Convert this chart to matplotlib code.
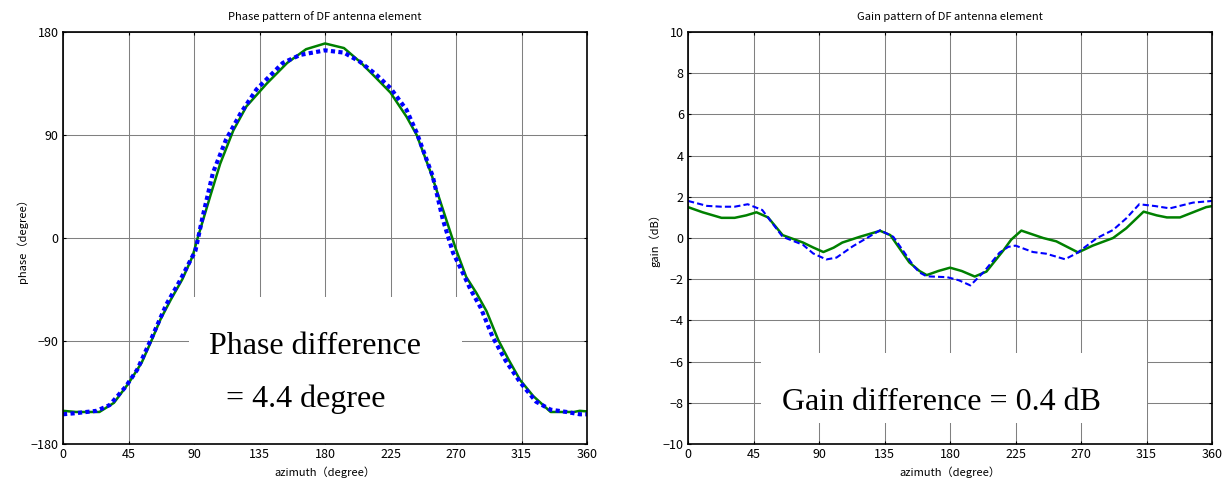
import numpy as np
import matplotlib
matplotlib.use('Agg')
import matplotlib.pyplot as plt
from matplotlib.patches import Rectangle

plt.rcParams['font.family'] = ['Noto Sans CJK JP', 'DejaVu Sans']

# phase pattern (degree)
phase_az_green = [0, 9, 25, 35, 45, 54, 61, 67, 74, 82, 89, 92.5, 101, 108, 117, 126, 140, 154, 167, 180,
                  193, 204, 215, 225, 236, 243, 253, 261, 270, 277, 284, 291, 299, 306, 314, 323, 335, 351, 355, 360]
phase_green = [-151, -152, -152, -144, -127, -109, -89, -71, -54, -36, -16, 0, 36, 65, 94, 115, 135, 153, 165, 170,
               166, 154, 140, 127, 106, 90, 56, 25, -10, -34, -48, -64, -89, -106, -124, -138, -152, -152, -151, -151.5]
phase_az_blue = [0, 9, 23, 32, 43, 51, 61, 71, 80, 91, 96, 103, 112, 122, 133, 151, 163, 180,
                 193, 204, 215, 225, 236, 243, 254, 261, 268, 273, 280, 287, 295, 304, 314, 325, 335, 346, 355, 360]
phase_blue = [-154, -153, -151, -146, -130, -115, -87, -58, -38, -11, 19, 57, 86, 109, 130, 153, 160, 164,
              162, 154, 143, 131, 112, 92, 54, 16, -13, -26, -45, -61, -86, -107, -126, -143, -150, -152, -154, -154]

# gain pattern (dB)
gain_az_green = [0, 10, 23, 32, 40, 47, 55, 65, 79, 86, 93, 100, 106, 118, 132, 139, 146, 152, 159, 164, 172,
                 180, 188, 197, 205, 217, 222, 229, 244, 253, 268, 278, 292, 301, 313, 322, 329, 338, 356, 360]
gain_green = [1.5, 1.25, 0.98, 0.98, 1.1, 1.25, 1.0, 0.14, -0.22, -0.46, -0.68, -0.47, -0.22, 0.06, 0.35, 0.14,
              -0.57, -1.18, -1.6, -1.8, -1.6, -1.44, -1.6, -1.87, -1.63, -0.57, -0.08, 0.36, 0.0, -0.16, -0.7,
              -0.37, 0.0, 0.47, 1.28, 1.1, 1.0, 1.0, 1.5, 1.55]
gain_az_blue = [0, 13, 23, 32, 41, 51, 65, 79, 86, 95, 102, 113, 132, 141, 148, 155, 159, 164, 178, 186, 194,
                203, 214, 220, 225, 237, 246, 259, 267, 281, 292, 301, 310, 321, 331, 347, 360]
gain_blue = [1.8, 1.56, 1.52, 1.52, 1.64, 1.36, 0.06, -0.33, -0.75, -1.04, -0.95, -0.41, 0.38, 0.06, -0.64,
             -1.36, -1.67, -1.86, -1.9, -2.05, -2.3, -1.66, -0.71, -0.43, -0.37, -0.68, -0.76, -1.03, -0.74,
             0.0, 0.39, 0.95, 1.64, 1.55, 1.44, 1.72, 1.8]

az_ticks = [0, 45, 90, 135, 180, 225, 270, 315, 360]
phase_ticks = [-180, -90, 0, 90, 180]
gain_ticks = list(range(-10, 11, 2))

green = '#008000'
blue = '#0000ff'


def style(ax, yticks):
    ax.set_xlim(0, 360)
    ax.set_xticks(az_ticks)
    ax.set_yticks(yticks)
    ax.set_ylim(yticks[0], yticks[-1])
    ax.set_axisbelow(True)
    ax.grid(True, color='#808080', lw=0.75)
    ax.tick_params(direction='in', length=2.5, width=0.8, top=True, right=True, labelsize=9, pad=3)
    for s in ax.spines.values():
        s.set_linewidth(1.2)
        s.set_zorder(3)


fig = plt.figure(figsize=(12.26, 4.83), dpi=100)

# phase
ax1 = fig.add_axes([0.0514, 0.0807, 0.4274, 0.853])
style(ax1, phase_ticks)
ax1.add_patch(Rectangle((0.2405, 0), 0.521, 0.357, transform=ax1.transAxes,
                        facecolor='white', edgecolor='none', zorder=1))
ax1.plot(phase_az_green, phase_green, color=green, lw=1.8, zorder=2)
ax1.plot(phase_az_blue, phase_blue, color=blue, lw=3, linestyle=(0, (1, 0.8)), zorder=2)
ax1.set_title('Phase pattern of DF antenna element', fontsize=8, pad=9)
ax1.set_xlabel('azimuth（degree）', fontsize=8, labelpad=4)
ax1.set_ylabel('phase（degree）', fontsize=8, labelpad=2)

# gain
ax2 = fig.add_axes([0.5612, 0.0807, 0.4274, 0.853])
style(ax2, gain_ticks)
ax2.add_patch(Rectangle((0.1393, 0.051), 0.7367, 0.17, transform=ax2.transAxes,
                        facecolor='white', edgecolor='none', zorder=1))
ax2.plot(gain_az_green, gain_green, color=green, lw=1.8, zorder=2)
ax2.plot(gain_az_blue, gain_blue, color=blue, lw=1.5, dashes=(3, 1.5), zorder=2)
ax2.set_title('Gain pattern of DF antenna element', fontsize=8, pad=9)
ax2.set_xlabel('azimuth（degree）', fontsize=8, labelpad=4)
ax2.set_ylabel('gain（dB）', fontsize=8, labelpad=2)

serif = dict(family='Liberation Serif', fontsize=23, va='baseline', ha='left')
fig.text(0.1705, 0.267, 'Phase difference', **serif)
fig.text(0.1843, 0.157, '= 4.4 degree', **serif)
fig.text(0.6378, 0.1511, 'Gain difference = 0.4 dB', **serif)

fig.savefig('out.png', dpi=100)
